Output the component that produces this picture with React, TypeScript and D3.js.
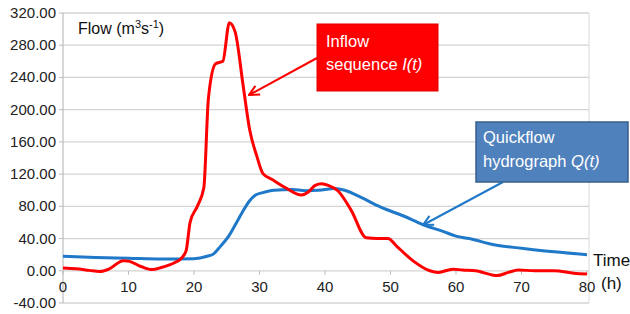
import * as d3 from 'd3';

// inflow sequence I(t)
const inflowTime = [0, 2, 4, 5.6, 7, 9.2, 10, 12, 13.6, 15, 17, 18, 18.8, 19.4, 20.5, 21.5, 22.2, 23.3, 24.4, 25.4, 26.3, 27.5, 28.5, 29.6, 30.5, 32, 34, 36.4, 37.5, 38.5, 39.5, 40.5, 42, 44, 46.3, 48, 49.6, 51, 53.5, 56, 57.3, 59.5, 61, 63, 66.3, 68, 69.5, 72, 75, 78, 80];
const inflowValue = [3.5, 2.5, 0.5, -1, 2, 12.5, 12, 5, 1.5, 4, 10, 15, 25, 60, 80, 103, 214, 257, 260, 308, 296, 230, 175, 142, 121, 113, 103, 94, 98, 106, 108, 106, 99, 75, 41, 40, 40, 30, 12, 0, -2, 2, 1, 0, -6, -2, 1, 0, 0, -3, -4];

// quickflow hydrograph Q(t)
const quickTime = [0, 5, 10, 15, 20, 22, 23, 24, 25.3, 26.5, 27.4, 28.5, 29.4, 30.5, 32.2, 35, 37, 39, 41.5, 43, 45.5, 48.5, 52, 55, 58, 60, 62, 66, 70, 75, 80];
const quickValue = [18, 16.5, 15.5, 14.5, 15, 18, 21, 30, 43, 60, 73, 87, 94, 97, 100, 101, 99.5, 100, 102, 100, 91, 79, 68, 57, 49, 43, 40, 32, 28, 23.5, 20];

const yTicks = [-40, 0, 40, 80, 120, 160, 200, 240, 280, 320];
const xTicks = [0, 10, 20, 30, 40, 50, 60, 70, 80];

const W = 630;
const H = 314;
const left = 63;
const right = 587;
const plotRight = 589;
const font = '"Liberation Sans", Arial, sans-serif';

export default function App() {
  const x = d3.scaleLinear().domain([0, 80]).range([left, right]);
  const y = d3.scaleLinear().domain([-40, 320]).range([303, 13]);

  const line = d3.line<[number, number]>()
    .x(d => x(d[0]))
    .y(d => y(d[1]))
    .curve(d3.curveMonotoneX);

  const inflowPath = line(inflowTime.map((t, i) => [t, inflowValue[i]]));
  const quickPath = line(quickTime.map((t, i) => [t, quickValue[i]]));

  return (
    <svg width={W} height={H} style={{ position: 'absolute', left: 0, top: 0, background: '#fff' }} fontFamily={font}>
      <defs>
        <marker id="arrRed" viewBox="0 0 12 12" refX="11" refY="6" markerWidth="12" markerHeight="12" markerUnits="userSpaceOnUse" orient="auto">
          <path d="M1,1 L11,6 L1,11" fill="none" stroke="#ff0000" strokeWidth="2" />
        </marker>
        <marker id="arrBlue" viewBox="0 0 12 12" refX="11" refY="6" markerWidth="12" markerHeight="12" markerUnits="userSpaceOnUse" orient="auto">
          <path d="M1,1 L11,6 L1,11" fill="none" stroke="#1f78c8" strokeWidth="2" />
        </marker>
      </defs>

      {/* gridlines */}
      {yTicks.map(v => (
        <line key={v} x1={left} x2={plotRight} y1={y(v)} y2={y(v)} stroke="#d4d4d4" strokeWidth={1.3} />
      ))}
      <line x1={plotRight} x2={plotRight} y1={y(320)} y2={y(-40)} stroke="#d9d9d9" strokeWidth={1} />
      <line x1={left} x2={left} y1={y(320)} y2={y(-40)} stroke="#bdbdbd" strokeWidth={1.2} />
      {yTicks.map(v => (
        <line key={'t' + v} x1={left - 4} x2={left} y1={y(v)} y2={y(v)} stroke="#bdbdbd" />
      ))}
      {xTicks.map(v => (
        <line key={'x' + v} x1={x(v)} x2={x(v)} y1={y(0)} y2={y(0) + 4} stroke="#bdbdbd" />
      ))}

      {/* tick labels */}
      {yTicks.map(v => (
        <text key={'l' + v} x={56} y={y(v) + 5} textAnchor="end" fontSize={15} fill="#222">
          {v.toFixed(2)}
        </text>
      ))}
      {xTicks.map(v => (
        <text key={'xl' + v} x={x(v)} y={292} textAnchor="middle" fontSize={15} fill="#222">
          {v}
        </text>
      ))}

      {/* series */}
      <path d={quickPath ?? ''} fill="none" stroke="#1f78c8" strokeWidth={3} strokeLinejoin="round" />
      <path d={inflowPath ?? ''} fill="none" stroke="#ff0000" strokeWidth={3} strokeLinejoin="round" />

      {/* axis titles */}
      <text x={78} y={34} fontSize={16} fill="#111">
        Flow (m<tspan fontSize={11} dy={-6}>3</tspan><tspan dy={6}>s</tspan><tspan fontSize={11} dy={-6}>-1</tspan><tspan dy={6}>)</tspan>
      </text>
      <text x={593} y={266} fontSize={17} fill="#111">Time</text>
      <text x={601} y={289} fontSize={17} fill="#111">(h)</text>

      {/* callouts */}
      <line x1={317} y1={58} x2={249} y2={95} stroke="#ff0000" strokeWidth={2} markerEnd="url(#arrRed)" />
      <rect x={317} y={24} width={121} height={67} fill="#ff0000" stroke="#e00000" />
      <text x={326} y={47} fontSize={16.5} fill="#fff">Inflow</text>
      <text x={326} y={70} fontSize={16.5} fill="#fff">
        sequence <tspan fontStyle="italic">I(t)</tspan>
      </text>

      <line x1={503} y1={182} x2={423} y2={225} stroke="#1f78c8" strokeWidth={2} markerEnd="url(#arrBlue)" />
      <rect x={476} y={122} width={152} height={60} fill="#4f81bd" stroke="#385d8a" strokeWidth={1.5} />
      <text x={483} y={143} fontSize={16.5} fill="#fff">Quickflow</text>
      <text x={483} y={167} fontSize={16.5} fill="#fff">
        hydrograph <tspan fontStyle="italic">Q(t)</tspan>
      </text>
    </svg>
  );
}
